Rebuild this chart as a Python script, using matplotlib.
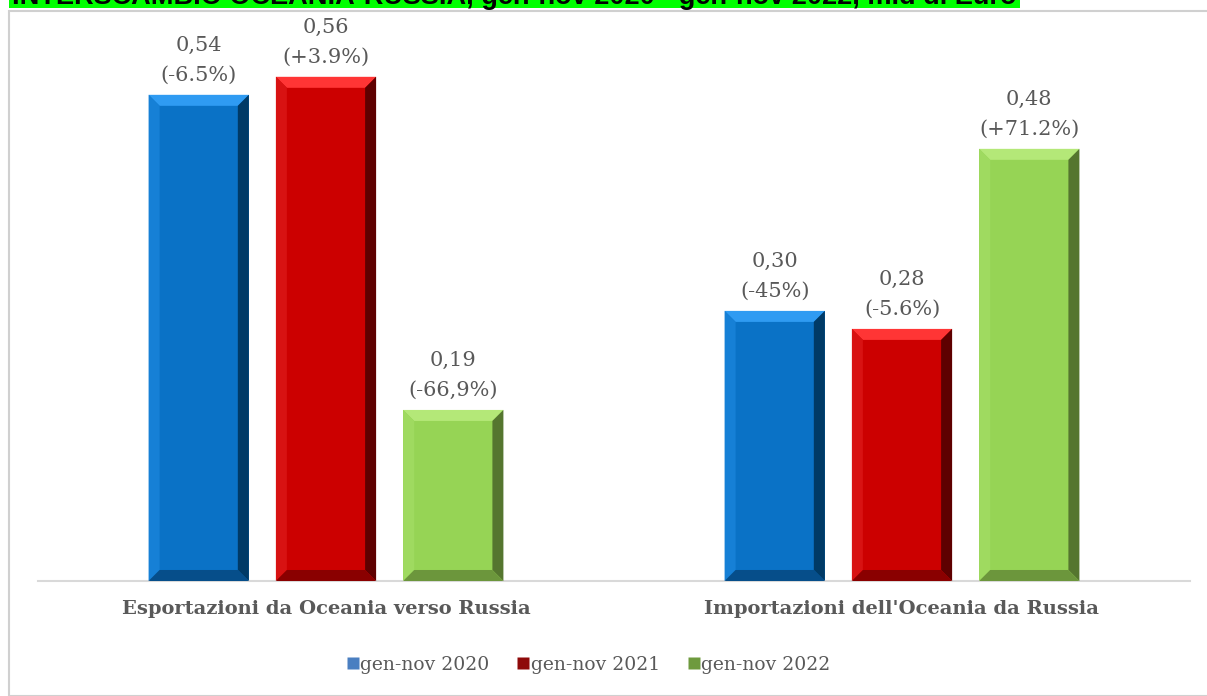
import numpy as np
import matplotlib
matplotlib.use("Agg")
import matplotlib.pyplot as plt
from matplotlib.patches import Polygon, Rectangle
from matplotlib.lines import Line2D

# data
categories = ["Esportazioni da Oceania verso Russia", "Importazioni dell'Oceania da Russia"]
series_names = ["gen-nov 2020", "gen-nov 2021", "gen-nov 2022"]
values_2020 = [0.54, 0.30]
values_2021 = [0.56, 0.28]
values_2022 = [0.19, 0.48]
labels_2020 = ["0,54\n(-6.5%)", "0,30\n(-45%)"]
labels_2021 = ["0,56\n(+3.9%)", "0,28\n(-5.6%)"]
labels_2022 = ["0,19\n(-66,9%)", "0,48\n(+71.2%)"]
title = "INTERSCAMBIO OCEANIA-RUSSIA, gen-nov 2020 - gen-nov 2022, mld di Euro"

# colours: main, top bevel, left bevel, right bevel, bottom bevel
palettes = [
    ("#0A72C6", "#2F9BF2", "#1680D6", "#003A66", "#064E8A"),
    ("#CC0000", "#FF3535", "#D81212", "#5E0000", "#8A0000"),
    ("#96D455", "#B4E878", "#9FDA60", "#55762F", "#6C963C"),
]
legend_colors = ["#4A7FC1", "#8E0A0A", "#6E9A3E"]

W, H = 1207, 696
fig = plt.figure(figsize=(W / 100, H / 100), dpi=100)

# outer frame of the chart area
fig.patches.append(Rectangle((9 / W, 0), 1.2, (H - 11) / H, transform=fig.transFigure,
                             fill=False, edgecolor="#D0D0D0", linewidth=1.5))
# clipped title banner
fig.patches.append(Rectangle((9 / W, (H - 7.5) / H), 1011 / W, 0.05, transform=fig.transFigure,
                             facecolor="#00FF00", edgecolor="none"))
fig.text(12 / W, (H - 4) / H, title, fontsize=19.5, fontweight="bold", family="Liberation Sans",
         color="black", va="baseline", ha="left")

ax = fig.add_axes([38 / W, (H - 581) / H, (1190 - 38) / W, (581 - 30) / H])
ax.set_xlim(-0.5, 1.5)
ax.set_ylim(0, 0.612)
for s in ["top", "right", "left"]:
    ax.spines[s].set_visible(False)
ax.spines["bottom"].set_color("#D9D9D9")
ax.spines["bottom"].set_linewidth(1.5)
ax.set_yticks([])
ax.tick_params(axis="x", length=0, pad=14)

x = np.arange(len(categories))
width = 0.174
offsets = [-0.221, 0.0, 0.221]
all_values = [values_2020, values_2021, values_2022]
all_labels = [labels_2020, labels_2021, labels_2022]

dx = 11 / 576
dy = 11 / 900
for vals, labs, off, pal in zip(all_values, all_labels, offsets, palettes):
    bars = ax.bar(x + off, vals, width, color=pal[0], edgecolor="none", zorder=2)
    for b, lab in zip(bars, labs):
        x0 = b.get_x()
        x1 = x0 + b.get_width()
        h = b.get_height()
        top = [(x0, h), (x1, h), (x1 - dx, h - dy), (x0 + dx, h - dy)]
        left = [(x0, 0), (x0, h), (x0 + dx, h - dy), (x0 + dx, dy)]
        right = [(x1, h), (x1, 0), (x1 - dx, dy), (x1 - dx, h - dy)]
        bottom = [(x0, 0), (x1, 0), (x1 - dx, dy), (x0 + dx, dy)]
        for poly, c in [(top, pal[1]), (left, pal[2]), (right, pal[3]), (bottom, pal[4])]:
            ax.add_patch(Polygon(poly, closed=True, facecolor=c, edgecolor="none", zorder=3))
        ax.annotate(lab, (b.get_x() + b.get_width() / 2, h), xytext=(0, 7),
                    textcoords="offset points", ha="center", va="bottom",
                    fontsize=15, family="DejaVu Serif", color="#595959",
                    linespacing=1.75)

ax.set_xticks(x)
ax.set_xticklabels(categories, fontsize=14, fontweight="bold", family="DejaVu Serif",
                   color="#595959")

handles = [Line2D([], [], marker="s", linestyle="none", markersize=9,
                  markerfacecolor=c, markeredgecolor="none") for c in legend_colors]
fig.legend(handles, series_names, loc="center", bbox_to_anchor=(586 / W, (H - 665) / H),
           ncol=3, frameon=False, handletextpad=-0.2, columnspacing=1.2, handlelength=1.2,
           prop={"family": "DejaVu Serif", "size": 13.5}, labelcolor="#595959")

fig.savefig("out.png", dpi=100)
